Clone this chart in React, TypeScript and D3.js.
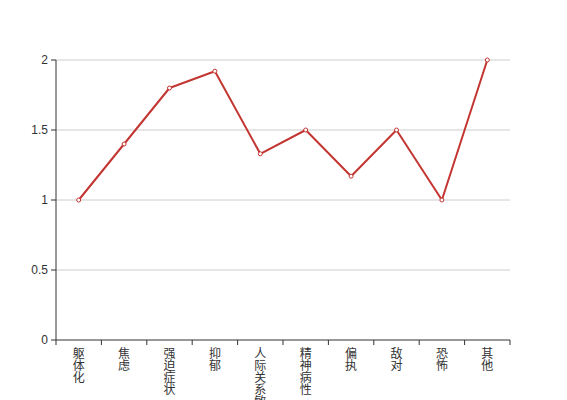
import React from "react";
import * as d3 from "d3";

const categories = ["躯体化", "焦虑", "强迫症状", "抑郁", "人际关系敏感", "精神病性", "偏执", "敌对", "恐怖", "其他"];
const values = [1, 1.4, 1.8, 1.92, 1.33, 1.5, 1.17, 1.5, 1, 2];
const yTicks = [0, 0.5, 1, 1.5, 2];

const W = 567, H = 400;
const left = 56, right = 510, top = 60, bottom = 340;

export default function App() {
  const x = d3.scaleBand<string>().domain(categories).range([left, right]);
  const y = d3.scaleLinear().domain([0, 2]).range([bottom, top]);
  const line = d3.line<number>().x((_, i) => x(categories[i])! + x.bandwidth() / 2).y(d => y(d));
  const font = "'Liberation Sans', 'Noto Sans CJK SC', sans-serif";
  const bounds = categories.map(c => x(c)!).concat([right]);
  return (
    <svg width={W} height={H} style={{ position: "absolute", left: 0, top: 0 }}>
      {yTicks.map(t => (
        <g key={t}>
          {t > 0 && <line x1={left} x2={right} y1={y(t)} y2={y(t)} stroke="#ccc" strokeWidth={1} />}
          <line x1={left - 5} x2={left} y1={y(t)} y2={y(t)} stroke="#333" />
          <text x={left - 8} y={y(t)} dy="0.35em" textAnchor="end" fontSize={12} fill="#333" fontFamily={font}>{t}</text>
        </g>
      ))}
      <line x1={left} x2={left} y1={top} y2={bottom} stroke="#333" />
      <line x1={left} x2={right} y1={bottom} y2={bottom} stroke="#333" />
      {bounds.map((b, i) => (
        <line key={i} x1={b} x2={b} y1={bottom} y2={bottom + 5} stroke="#333" />
      ))}
      {categories.map(c => (
        <text key={c} x={x(c)! + x.bandwidth() / 2} y={bottom + 8} textAnchor="middle" fontSize={12} fill="#333" fontFamily="'Noto Sans CJK SC', sans-serif">
          {c.split("").map((ch, j) => (
            <tspan key={j} x={x(c)! + x.bandwidth() / 2} y={bottom + 18 + j * 12}>{ch}</tspan>
          ))}
        </text>
      ))}
      <path d={line(values)!} fill="none" stroke="#c23531" strokeWidth={2} strokeLinejoin="round" />
      {values.map((v, i) => (
        <circle key={i} cx={x(categories[i])! + x.bandwidth() / 2} cy={y(v)} r={2} fill="#fff" stroke="#c23531" strokeWidth={1} />
      ))}
    </svg>
  );
}
